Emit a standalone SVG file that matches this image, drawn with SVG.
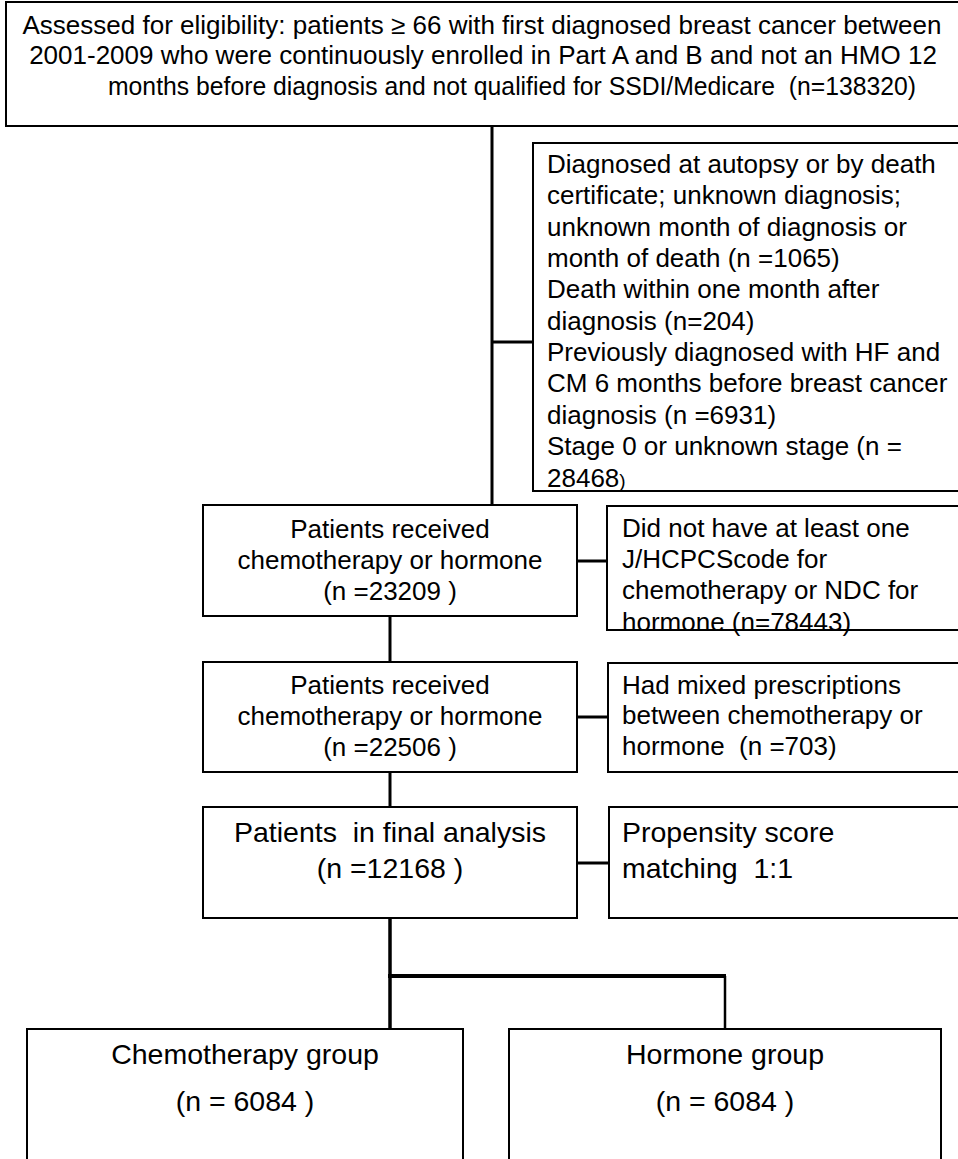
<svg xmlns="http://www.w3.org/2000/svg" width="958" height="1159" viewBox="0 0 958 1159">
<style>
.box{fill:#fff;stroke:#000;stroke-width:2}
.t{font-family:"Liberation Sans",Arial,sans-serif;font-size:26px;fill:#000;white-space:pre}
.c{text-anchor:middle}
.big{font-size:28.5px}
.conn{stroke:#000;fill:none;stroke-linecap:butt}
</style>
<rect width="958" height="1159" fill="#fff"/>
<g id="connectors">
<line class="conn" x1="492" y1="126" x2="492" y2="505" stroke-width="3"/>
<line class="conn" x1="492" y1="342" x2="533" y2="342" stroke-width="3"/>
<line class="conn" x1="577" y1="561" x2="608" y2="561" stroke-width="3"/>
<line class="conn" x1="390" y1="616" x2="390" y2="662" stroke-width="3"/>
<line class="conn" x1="577" y1="717" x2="608" y2="717" stroke-width="3"/>
<line class="conn" x1="390" y1="772" x2="390" y2="807" stroke-width="3"/>
<line class="conn" x1="577" y1="863" x2="609" y2="863" stroke-width="3"/>
<line class="conn" x1="390" y1="918" x2="390" y2="1029" stroke-width="3.5"/>
<line class="conn" x1="388" y1="976" x2="726" y2="976" stroke-width="4"/>
<line class="conn" x1="725" y1="976" x2="725" y2="1029" stroke-width="2.5"/>
</g>
<g id="eligibility">
<rect class="box" x="6" y="2" width="970" height="124"/>
<text class="t c" x="482" y="34">Assessed for eligibility: patients ≥ 66 with first diagnosed breast cancer between</text>
<text class="t c" x="483" y="64">2001-2009 who were continuously enrolled in Part A and B and not an HMO 12</text>
<text class="t c" x="512" y="95" xml:space="preserve" textLength="808" lengthAdjust="spacingAndGlyphs">months before diagnosis and not qualified for SSDI/Medicare  (n=138320)</text>
</g>
<g id="exclusion1">
<rect class="box" x="533" y="143" width="440" height="348"/>
<text class="t" x="547" y="173">Diagnosed at autopsy or by death</text>
<text class="t" x="547" y="204">certificate; unknown diagnosis;</text>
<text class="t" x="547" y="236">unknown month of diagnosis or</text>
<text class="t" x="547" y="267">month of death (n =1065)</text>
<text class="t" x="547" y="298">Death within one month after</text>
<text class="t" x="547" y="330">diagnosis (n=204)</text>
<text class="t" x="547" y="361">Previously diagnosed with HF and</text>
<text class="t" x="547" y="392">CM 6 months before breast cancer</text>
<text class="t" x="547" y="424">diagnosis (n =6931)</text>
<text class="t" x="547" y="455">Stage 0 or unknown stage (n =</text>
<text class="t" x="547" y="487">28468<tspan font-size="19">)</tspan></text>
</g>
<g id="received1">
<rect class="box" x="203" y="505" width="374" height="111"/>
<text class="t c" x="390" y="538">Patients received</text>
<text class="t c" x="390" y="569">chemotherapy or hormone</text>
<text class="t c" x="390" y="600">(n =23209 )</text>
</g>
<g id="exclusion2">
<text class="t" x="622" y="537">Did not have at least one</text>
<text class="t" x="622" y="568">J/HCPCScode for</text>
<text class="t" x="622" y="599">chemotherapy or NDC for</text>
<text class="t" x="622" y="631">hormone (n=78443)</text>
<rect x="607" y="506" width="370" height="124" fill="none" stroke="#000" stroke-width="2"/>
</g>
<g id="received2">
<rect class="box" x="203" y="662" width="374" height="110"/>
<text class="t c" x="390" y="694">Patients received</text>
<text class="t c" x="390" y="725">chemotherapy or hormone</text>
<text class="t c" x="390" y="756">(n =22506 )</text>
</g>
<g id="exclusion3">
<rect class="box" x="608" y="663" width="370" height="109"/>
<text class="t" x="622" y="694">Had mixed prescriptions</text>
<text class="t" x="622" y="724">between chemotherapy or</text>
<text class="t" x="622" y="755" xml:space="preserve">hormone  (n =703)</text>
</g>
<g id="final">
<rect class="box" x="203" y="807" width="374" height="111"/>
<text class="t c big" x="390" y="842" xml:space="preserve">Patients  in final analysis</text>
<text class="t c big" x="390" y="878">(n =12168 )</text>
</g>
<g id="matching">
<rect class="box" x="609" y="807" width="370" height="111"/>
<text class="t big" x="622" y="842">Propensity score</text>
<text class="t big" x="622" y="878" xml:space="preserve">matching  1:1</text>
</g>
<g id="chemo">
<rect class="box" x="27" y="1029" width="436" height="160"/>
<text class="t c big" x="245" y="1064">Chemotherapy group</text>
<text class="t c big" x="245" y="1111">(n = 6084 )</text>
</g>
<g id="hormone">
<rect class="box" x="509" y="1029" width="432" height="160"/>
<text class="t c big" x="725" y="1064">Hormone group</text>
<text class="t c big" x="725" y="1111">(n = 6084 )</text>
</g>
</svg>
